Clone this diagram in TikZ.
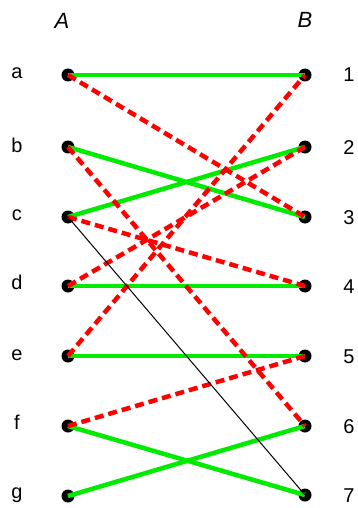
\documentclass[tikz,border=0pt]{standalone}
\usepackage{fontspec}
\setmainfont{Liberation Sans}
\begin{document}
\begin{tikzpicture}[x=1pt,y=-1pt,
  vtx/.style={circle,fill=black,inner sep=0pt,minimum size=13pt},
  lab/.style={font=\fontsize{20}{22}\selectfont,inner sep=0pt},
  hd/.style={font=\fontsize{22}{24}\selectfont\itshape,inner sep=0pt},
  ok/.style={draw={rgb,255:red,0;green,235;blue,0},line width=4.5pt},
  bad/.style={draw=red,line width=4.5pt,dash pattern=on 9pt off 5pt},
  thin/.style={draw=black,line width=1pt}]
\useasboundingbox (0,0) rectangle (357,508);
\node[hd] (hA) at (62,21) {A};
\node[hd] (hB) at (305,20) {B};
\foreach \n/\t/\y in {a/a/75,b/b/147,c/c/217,d/d/286,e/e/356,f/f/426,g/g/496}{
  \node[vtx] (\n) at (68,\y) {};
}
\foreach \n/\t/\y in {a/a/74,b/b/147,c/c/215,d/d/284,e/e/355,f/f/424,g/g/493}{
  \node[lab,anchor=base] (l\n) at (17,\y+5) {\t};
}
\foreach \n/\y in {1/75,2/147,3/217,4/286,5/356,6/426,7/495}{
  \node[vtx] (r\n) at (305,\y) {};
  \node[lab,anchor=base] (lr\n) at (349,\y+7) {\n};
}
\draw[ok] (a.center) -- (r1.center);
\draw[ok] (b.center) -- (r3.center);
\draw[ok] (c.center) -- (r2.center);
\draw[ok] (d.center) -- (r4.center);
\draw[ok] (e.center) -- (r5.center);
\draw[ok] (f.center) -- (r7.center);
\draw[ok] (g.center) -- (r6.center);
\draw[bad] (a.center) -- (r3.center);
\draw[bad] (b.center) -- (r6.center);
\draw[bad] (c.center) -- (r4.center);
\draw[bad] (d.center) -- (r2.center);
\draw[bad] (e.center) -- (r1.center);
\draw[bad] (f.center) -- (r5.center);
\draw[thin] (c.center) -- (r7.center);
\end{tikzpicture}
\end{document}
